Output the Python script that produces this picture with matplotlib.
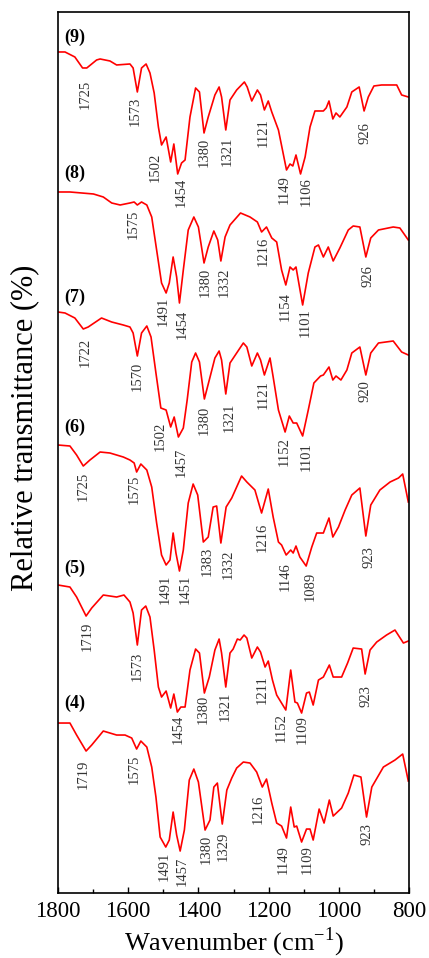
"""Stacked FTIR spectra (4)-(9) with peak labels."""
import matplotlib
matplotlib.use("Agg")
import matplotlib.pyplot as plt
from matplotlib.ticker import MultipleLocator

plt.rcParams["font.family"] = ["Liberation Serif", "DejaVu Serif"]
plt.rcParams["mathtext.fontset"] = "custom"
plt.rcParams["mathtext.rm"] = "Liberation Serif"

# -----------------------------------------------------------------------------
# Data (T is offset transmittance, arbitrary units)
# -----------------------------------------------------------------------------
wn9 = [1800, 1780, 1752, 1730, 1718, 1690, 1680, 1652, 1633, 1595, 1586, 1574,
       1562, 1549, 1538, 1526, 1514, 1505, 1492, 1479, 1470, 1459, 1448, 1438,
       1424, 1408, 1397, 1384, 1372, 1353, 1341, 1334, 1322, 1310, 1291, 1269,
       1261, 1248, 1232, 1223, 1212, 1201, 1191, 1172, 1149, 1139, 1131, 1122,
       1109, 1096, 1082, 1068, 1044, 1036, 1028, 1017, 1008, 997, 977, 963,
       942, 928, 916, 900, 878, 835, 821, 802]
t9 = [841, 841, 836, 825, 825, 833, 834, 832, 828, 829, 825, 801,
      825, 829, 820, 800, 766, 748, 756, 731, 749, 719, 730, 733,
      776, 805, 801, 760, 776, 798, 806, 796, 763, 793, 803, 811,
      806, 792, 803, 798, 783, 792, 781, 763, 723, 729, 727, 738,
      719, 736, 766, 782, 782, 785, 792, 774, 780, 776, 786, 801,
      806, 782, 796, 807, 808, 808, 798, 796]

wn8 = [1800, 1766, 1699, 1671, 1647, 1623, 1595, 1583, 1574, 1562, 1547, 1533,
       1519, 1505, 1492, 1483, 1472, 1462, 1454, 1443, 1429, 1413, 1400, 1384,
       1372, 1356, 1345, 1336, 1324, 1310, 1280, 1253, 1232, 1220, 1206, 1191,
       1177, 1163, 1151, 1139, 1130, 1122, 1103, 1087, 1068, 1058, 1044, 1030,
       1016, 997, 973, 959, 940, 923, 909, 887, 845, 826, 802]
t8 = [701, 701, 699, 696, 690, 688, 690, 691, 688, 691, 688, 676,
      643, 610, 600, 610, 636, 616, 590, 623, 663, 676, 666, 630,
      646, 662, 653, 632, 656, 668, 680, 676, 671, 661, 666, 655,
      651, 623, 608, 626, 623, 626, 588, 620, 646, 648, 636, 646,
      632, 645, 663, 667, 666, 636, 655, 663, 666, 665, 653]

wn7 = [1800, 1780, 1752, 1728, 1714, 1676, 1647, 1614, 1595, 1586, 1574, 1562,
       1547, 1535, 1521, 1507, 1492, 1479, 1469, 1457, 1443, 1432, 1419, 1408,
       1397, 1383, 1369, 1353, 1341, 1334, 1322, 1310, 1291, 1272, 1262, 1248,
       1232, 1223, 1212, 1196, 1187, 1172, 1153, 1141, 1130, 1120, 1103, 1087,
       1071, 1052, 1044, 1028, 1017, 1008, 994, 977, 963, 940, 923, 909,
       887, 845, 821, 802]
t7 = [581, 580, 575, 564, 566, 575, 571, 568, 566, 560, 537, 560,
      567, 556, 520, 485, 483, 466, 476, 456, 465, 493, 531, 540,
      531, 494, 513, 535, 542, 533, 499, 530, 540, 550, 546, 527,
      540, 533, 518, 535, 516, 483, 461, 477, 470, 470, 457, 483,
      510, 517, 518, 526, 513, 517, 513, 523, 540, 546, 518, 540,
      550, 552, 541, 538]

wn6 = [1800, 1766, 1747, 1728, 1709, 1680, 1652, 1614, 1595, 1583, 1576, 1564,
       1547, 1533, 1519, 1505, 1492, 1481, 1472, 1464, 1454, 1443, 1429, 1415,
       1402, 1386, 1372, 1358, 1348, 1336, 1321, 1305, 1277, 1262, 1239, 1220,
       1201, 1187, 1172, 1163, 1150, 1137, 1130, 1122, 1111, 1093, 1077, 1063,
       1044, 1028, 1017, 1001, 982, 963, 940, 923, 909, 883, 854, 830,
       818, 802]
t6 = [448, 447, 438, 427, 433, 441, 440, 436, 433, 430, 421, 429,
      423, 406, 370, 338, 328, 333, 360, 340, 322, 343, 390, 409,
      398, 351, 356, 386, 387, 350, 386, 395, 417, 411, 403, 380,
      404, 376, 351, 348, 338, 343, 340, 347, 336, 327, 346, 360,
      360, 375, 356, 366, 383, 398, 405, 357, 388, 403, 411, 415,
      419, 391]

wn5 = [1800, 1766, 1747, 1720, 1704, 1671, 1633, 1612, 1595, 1586, 1574, 1562,
       1550, 1538, 1526, 1514, 1505, 1492, 1479, 1470, 1460, 1450, 1438, 1424,
       1408, 1397, 1383, 1369, 1353, 1341, 1334, 1322, 1310, 1301, 1289, 1281,
       1270, 1262, 1248, 1232, 1223, 1210, 1201, 1189, 1177, 1151, 1137, 1125,
       1118, 1106, 1092, 1084, 1073, 1058, 1044, 1027, 1016, 992, 975, 959,
       935, 925, 911, 892, 864, 840, 816, 802]
t5 = [308, 306, 296, 277, 285, 298, 296, 298, 291, 280, 248, 283,
      287, 276, 243, 206, 196, 202, 185, 199, 181, 186, 186, 223,
      244, 240, 200, 216, 243, 254, 240, 206, 240, 244, 254, 253,
      258, 255, 235, 246, 241, 226, 232, 213, 198, 183, 223, 191,
      190, 180, 200, 201, 188, 213, 216, 228, 216, 216, 230, 245,
      244, 219, 243, 251, 258, 263, 250, 252]

wn4 = [1800, 1766, 1747, 1720, 1704, 1671, 1633, 1609, 1590, 1576, 1564, 1547,
       1533, 1521, 1509, 1493, 1483, 1472, 1462, 1452, 1440, 1426, 1413, 1400,
       1381, 1367, 1356, 1346, 1332, 1319, 1305, 1291, 1272, 1253, 1234, 1218,
       1206, 1191, 1177, 1163, 1149, 1137, 1127, 1120, 1106, 1092, 1082, 1073,
       1056, 1042, 1027, 1016, 992, 973, 957, 937, 921, 906, 873, 840,
       818, 802]
t4 = [170, 170, 158, 142, 148, 162, 158, 158, 155, 144, 152, 146,
      126, 96, 56, 46, 53, 81, 58, 42, 63, 113, 124, 111,
      63, 73, 106, 110, 69, 103, 115, 125, 131, 130, 121, 106,
      114, 90, 70, 67, 55, 86, 66, 67, 51, 64, 64, 53,
      84, 70, 93, 77, 85, 100, 118, 116, 76, 106, 126, 133,
      139, 112]

sample_names = ["(9)", "(8)", "(7)", "(6)", "(5)", "(4)"]
spectra = [(wn9, t9), (wn8, t8), (wn7, t7), (wn6, t6), (wn5, t5), (wn4, t4)]

# peak labels: text, and where the label sits (wavenumber, top of text)
peak_text = [
    ["1725", "1573", "1502", "1454", "1380", "1321", "1121", "1149", "1106", "926"],
    ["1575", "1491", "1454", "1380", "1332", "1216", "1154", "1101", "926"],
    ["1722", "1570", "1502", "1457", "1380", "1321", "1121", "1152", "1101", "920"],
    ["1725", "1575", "1491", "1451", "1383", "1332", "1216", "1146", "1089", "923"],
    ["1719", "1573", "1454", "1380", "1321", "1211", "1152", "1109", "923"],
    ["1719", "1575", "1491", "1457", "1380", "1329", "1216", "1149", "1109", "923"],
]
peak_x = [
    [1723, 1581, 1524, 1450, 1384, 1319, 1216, 1156, 1093, 925],
    [1586, 1501, 1447, 1381, 1327, 1216, 1153, 1096, 917],
    [1723, 1575, 1509, 1450, 1384, 1313, 1216, 1156, 1093, 925],
    [1729, 1583, 1495, 1438, 1376, 1316, 1219, 1153, 1082, 914],
    [1717, 1575, 1458, 1387, 1324, 1219, 1165, 1105, 923],
    [1729, 1583, 1498, 1447, 1378, 1330, 1230, 1159, 1091, 920],
]
peak_y = [
    [813, 796, 740, 715, 755, 756, 775, 718, 716, 771],
    [683, 596, 583, 625, 625, 656, 601, 585, 628],
    [555, 531, 471, 445, 487, 490, 513, 456, 451, 513],
    [421, 418, 318, 318, 346, 343, 370, 331, 321, 347],
    [271, 241, 178, 198, 201, 218, 180, 178, 208],
    [133, 138, 41, 36, 58, 61, 98, 48, 48, 70],
]
name_y = [856, 720, 596, 466, 325, 190]

# -----------------------------------------------------------------------------
# Plot
# -----------------------------------------------------------------------------
fig = plt.figure(figsize=(4.29, 9.58), dpi=100)
ax = fig.add_axes([0.1352, 0.0678, 0.8182, 0.9197])

for (wn, t), name, ny, txt, px, py in zip(spectra, sample_names, name_y,
                                         peak_text, peak_x, peak_y):
    ax.plot(wn, t, color="#ff0000", lw=1.2)
    ax.text(1783, ny, name, fontsize=13, fontweight="bold",
            ha="left", va="center")
    for s, x, y in zip(txt, px, py):
        ax.text(x, y, s, rotation=90, fontsize=10.5, color="#333333",
                ha="center", va="top")

ax.set_xlim(1800, 800)
ax.set_ylim(0, 881)
ax.xaxis.set_major_locator(MultipleLocator(200))
ax.xaxis.set_minor_locator(MultipleLocator(100))
ax.tick_params(axis="x", which="both", direction="in", labelsize=16.5,
               width=1.0, pad=6)
ax.tick_params(axis="x", which="major", length=4)
ax.tick_params(axis="x", which="minor", length=3)
ax.set_yticks([])
for sp in ax.spines.values():
    sp.set_linewidth(1.2)

ax.set_xlabel(r"Wavenumber (cm$^{-1}$)", fontsize=19, labelpad=2)
fig.text(25 / 429, 1 - 428 / 958, "Relative transmittance (%)", fontsize=22,
         rotation=90, ha="center", va="center")

fig.savefig("out.png", dpi=100)
